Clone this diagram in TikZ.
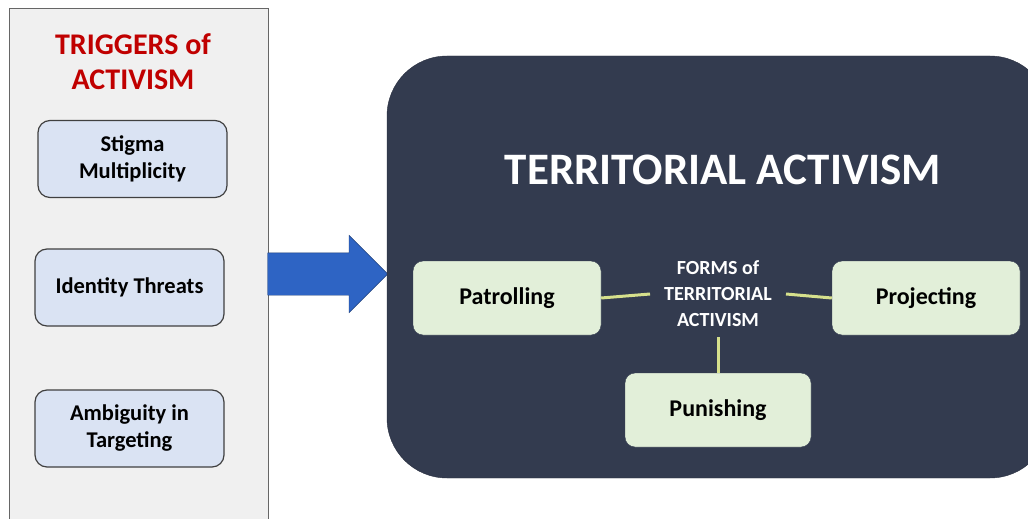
\documentclass[tikz,border=0pt]{standalone}
\usepackage{fontspec}
\setmainfont{Carlito}
\usetikzlibrary{shapes.arrows}
\definecolor{panelgray}{RGB}{240,240,240}
\definecolor{trigred}{RGB}{192,0,0}
\definecolor{trigblue}{RGB}{218,227,243}
\definecolor{arrowblue}{RGB}{46,100,196}
\definecolor{panelnavy}{RGB}{51,59,79}
\definecolor{formgreen}{RGB}{226,239,217}
\definecolor{linkgreen}{RGB}{214,224,140}

\begin{document}
\begin{tikzpicture}[x=1pt,y=-1pt,
  trigger/.style={draw=black!75, line width=1.2pt, fill=trigblue, rounded corners=12pt, minimum width=189pt, minimum height=77pt, align=center, font=\fontsize{22.5}{27}\selectfont\bfseries},
  form/.style={draw=panelnavy, fill=formgreen, rounded corners=10pt, minimum width=188pt, minimum height=74pt, font=\fontsize{24}{29}\selectfont\bfseries},
  link/.style={linkgreen, line width=3pt}]
\useasboundingbox (0,0) rectangle (1028,519);
\clip (0,0) rectangle (1028,519);

% triggers panel
\draw [fill=panelgray, draw=black!60, line width=1pt] (9,9) rectangle (268,540);
\node [text=trigred, align=center, font=\fontsize{30}{35}\selectfont\bfseries] (trigtitle) at (133,62) {TRIGGERS of\\ACTIVISM};
\node [trigger] (stigma) at (132.5,159) {Stigma\\Multiplicity};
\node [trigger] (threat) at (129.5,287.5) {Identity Threats};
\node [trigger] (ambig) at (129.5,428.5) {Ambiguity in\\Targeting};

% block arrow
\node [single arrow, fill=arrowblue, draw=arrowblue!60!black, minimum height=120pt, inner xsep=0pt, inner ysep=21pt, single arrow head extend=17.5pt, anchor=tip] (push) at (388,274) {};

% activism panel
\draw [fill=panelnavy, draw=panelnavy!80!black, rounded corners=60pt] (387,56) rectangle (1050,478);
\node [white, font=\fontsize{45}{54}\selectfont\bfseries] (title) at (723,170) {TERRITORIAL ACTIVISM};
\node [white, align=center, inner xsep=14pt, inner ysep=10pt, font=\fontsize{20}{26}\selectfont\bfseries] (forms) at (718,294) {FORMS of\\TERRITORIAL\\ACTIVISM};
\node [form] (patrol) at (507,298) {Patrolling};
\node [form] (project) at (926,298) {Projecting};
\node [form, minimum width=186pt] (punish) at (718,410) {Punishing};

\draw [link] (patrol.east) -- (forms.west);
\draw [link] (forms.east) -- (project.west);
\draw [link] (forms.south) -- (punish.north);

\end{tikzpicture}
\end{document}
